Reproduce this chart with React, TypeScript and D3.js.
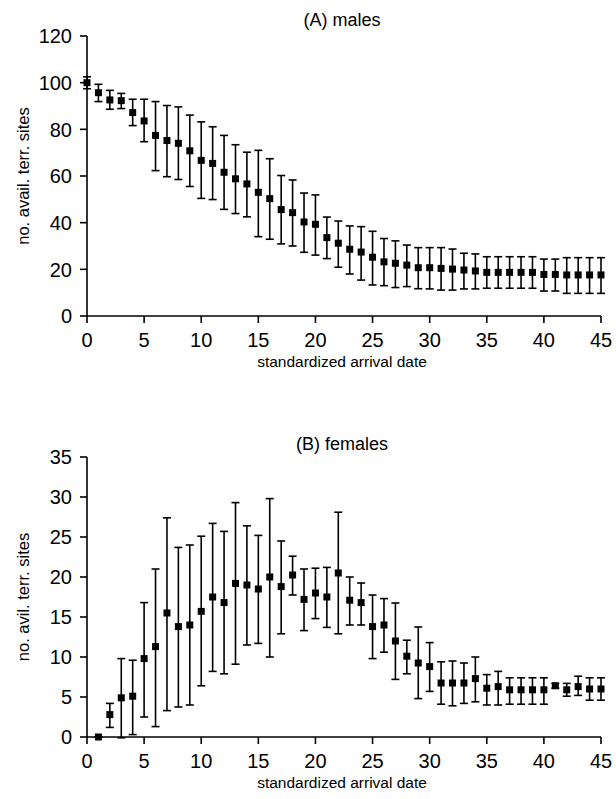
import React from 'react';
import * as d3 from 'd3';

const maleDays = [0,1,2,3,4,5,6,7,8,9,10,11,12,13,14,15,16,17,18,19,20,21,22,23,24,25,26,27,28,29,30,31,32,33,34,35,36,37,38,39,40,41,42,43,44,45];
const malesMean = [100,95.7,92.6,92.3,87.2,83.6,77.4,75.2,74,70.8,66.7,65.4,61.6,58.8,56.6,53.0,50.3,45.6,44.3,40.3,39.3,33.6,31.2,28.6,27.4,25.2,23.2,22.6,21.8,20.7,20.7,20.4,20.1,19.7,19.3,18.7,18.7,18.7,18.7,18.7,17.8,17.8,17.6,17.6,17.6,17.6];
const malesUpper = [102.5,99.3,96.7,95.4,92.9,92.9,91.9,90.2,89.6,86.1,83.2,81.1,77.4,73.4,70.2,71.0,67.4,60.2,58.3,52.7,51.9,42.4,40.7,38.6,38.3,36.3,33.2,32.2,30.4,29.3,29.3,29.3,28.7,26.9,26.6,25.4,25.4,25.4,25.4,25.4,24.4,24.4,25.0,25.0,25.0,25.0];
const malesLower = [97.4,91.9,88.6,88.9,81.6,74.7,62.3,59.7,58.5,55.5,50.4,49.9,45.7,43.9,42.5,34.0,32.9,30.9,30.0,27.3,26.1,24.6,20.9,18.0,15.4,13.3,13.0,12.2,12.6,11.7,11.6,11.1,11.1,11.6,11.6,11.9,11.9,11.9,11.9,11.9,10.7,10.7,9.7,9.7,9.7,9.7];

const femaleDays = [1,2,3,4,5,6,7,8,9,10,11,12,13,14,15,16,17,18,19,20,21,22,23,24,25,26,27,28,29,30,31,32,33,34,35,36,37,38,39,40,41,42,43,44,45];
const femalesMean = [0,2.8,4.9,5.1,9.8,11.3,15.5,13.8,14.0,15.7,17.5,16.8,19.2,19.0,18.5,20.0,18.8,20.25,17.2,18.0,17.5,20.5,17.1,16.8,13.8,14.0,12.0,10.1,9.25,8.8,6.75,6.75,6.75,7.3,6.1,6.3,5.9,5.9,5.9,5.9,6.4,5.9,6.3,6.0,6.0];
const femalesUpper = [0,4.2,9.8,9.6,16.8,21.0,27.4,23.7,24.0,25.1,26.7,25.7,29.3,26.4,25.2,29.8,24.5,22.6,21.0,21.1,21.2,28.1,20.0,19.25,17.75,17.3,16.75,12.1,13.75,11.8,9.4,9.5,9.25,10.0,7.8,8.2,7.4,7.4,7.4,7.4,6.7,6.7,7.6,7.4,7.4];
const femalesLower = [0,1.2,-0.1,0.3,2.5,1.3,3.3,3.75,4.0,6.4,8.2,7.9,9.1,11.5,11.7,10.0,12.9,17.75,13.3,14.8,13.7,12.9,14.0,14.0,9.8,10.6,7.2,7.9,4.8,5.7,4.1,3.9,4.2,4.4,4.0,4.0,4.1,4.1,4.1,4.1,6.1,5.1,5.2,4.6,4.6];

const xTicks = [0,5,10,15,20,25,30,35,40,45];
const maleYTicks = [0,20,40,60,80,100,120];
const femaleYTicks = [0,5,10,15,20,25,30,35];

const FONT = 'Liberation Sans, Arial, sans-serif';

type PanelProps = {
  title: string;
  days: number[];
  mean: number[];
  upper: number[];
  lower: number[];
  yMax: number;
  yTicks: number[];
  yLabel: string;
  top: number;
  bottom: number;
  titleY: number;
};

function Panel(p: PanelProps) {
  const x = d3.scaleLinear().domain([0, 45]).range([87, 601]);
  const y = d3.scaleLinear().domain([0, p.yMax]).range([p.bottom, p.top]);
  const ms = 7;
  const cap = 4;
  const sw = 1.6;
  return (
    <g>
      <text x={342} y={p.titleY} fontSize={18} fontFamily={FONT} textAnchor="middle">{p.title}</text>
      {p.days.map((d, i) => (
        <g key={i}>
          <line x1={x(d)} x2={x(d)} y1={y(p.lower[i])} y2={y(p.upper[i])} stroke="#000" strokeWidth={sw} />
          <line x1={x(d) - cap} x2={x(d) + cap} y1={y(p.lower[i])} y2={y(p.lower[i])} stroke="#000" strokeWidth={sw} />
          <line x1={x(d) - cap} x2={x(d) + cap} y1={y(p.upper[i])} y2={y(p.upper[i])} stroke="#000" strokeWidth={sw} />
          <rect x={x(d) - ms / 2} y={y(p.mean[i]) - ms / 2} width={ms} height={ms} fill="#000" />
        </g>
      ))}
      <line x1={x(0)} x2={x(0)} y1={y(p.yMax)} y2={y(0)} stroke="#000" strokeWidth={sw} />
      <line x1={x(0)} x2={x(45)} y1={y(0)} y2={y(0)} stroke="#000" strokeWidth={sw} />
      {p.yTicks.map((t) => (
        <g key={t}>
          <line x1={x(0) - 7} x2={x(0)} y1={y(t)} y2={y(t)} stroke="#000" strokeWidth={sw} />
          <text x={x(0) - 15} y={y(t)} dy="0.36em" fontSize={20} fontFamily={FONT} textAnchor="end">{t}</text>
        </g>
      ))}
      {xTicks.map((t) => (
        <g key={t}>
          <line x1={x(t)} x2={x(t)} y1={y(0)} y2={y(0) + 7} stroke="#000" strokeWidth={sw} />
          <text x={x(t)} y={y(0) + 31} fontSize={20} fontFamily={FONT} textAnchor="middle">{t}</text>
        </g>
      ))}
      <text x={342} y={y(0) + 51} fontSize={15.5} fontFamily={FONT} textAnchor="middle">standardized arrival date</text>
      <text transform={`translate(29,${(p.top + p.bottom) / 2}) rotate(-90)`} fontSize={16.5} fontFamily={FONT} textAnchor="middle">{p.yLabel}</text>
    </g>
  );
}

export default function App() {
  return (
    <svg width={616} height={799} style={{ position: 'absolute', left: 0, top: 0, background: '#fff' }}>
      <rect width={616} height={799} fill="#fff" />
      <Panel title="(A) males" days={maleDays} mean={malesMean} upper={malesUpper} lower={malesLower}
        yMax={120} yTicks={maleYTicks} yLabel="no. avail. terr. sites" top={36} bottom={316} titleY={26} />
      <Panel title="(B) females" days={femaleDays} mean={femalesMean} upper={femalesUpper} lower={femalesLower}
        yMax={35} yTicks={femaleYTicks} yLabel="no. avil. terr. sites" top={457} bottom={737} titleY={450} />
    </svg>
  );
}
